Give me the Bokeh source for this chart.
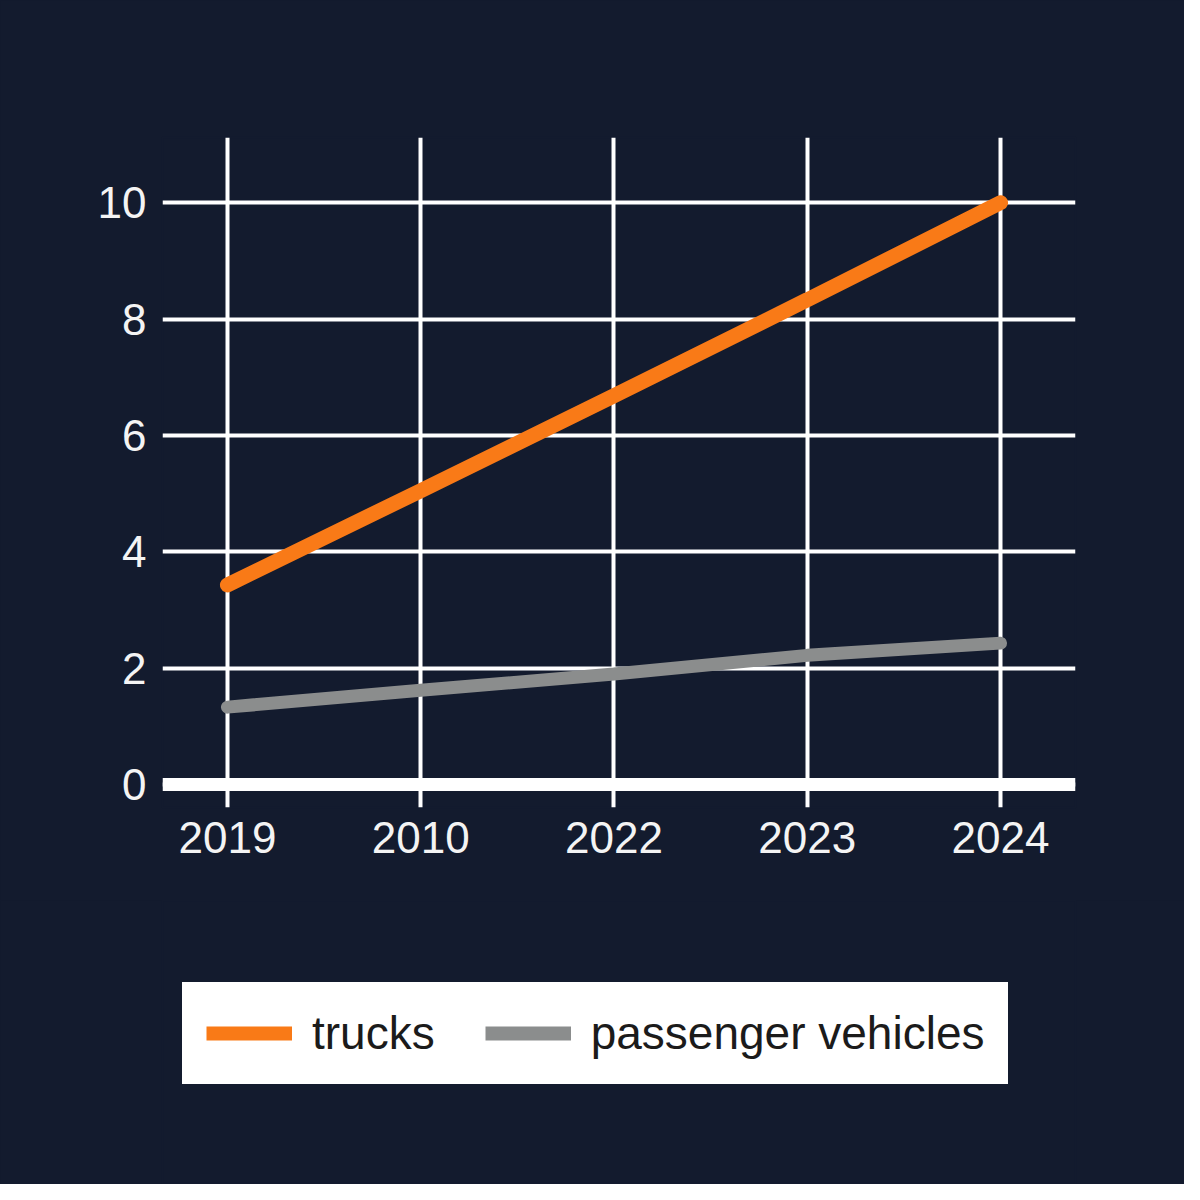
from bokeh.plotting import figure
from bokeh.layouts import column
from bokeh.models import Range1d, FixedTicker, Span, Legend, LegendItem
from bokeh.embed import file_html
from bokeh.resources import INLINE

# Dados
years = ["2019", "2010", "2022", "2023", "2024"]
trucks = [3.43, 5.05, 6.68, 8.33, 10.0]
passenger = [1.33, 1.62, 1.90, 2.22, 2.43]
y_ticks = [0, 2, 4, 6, 8, 10]

BG = "#131b2e"
ORANGE = "#f97a17"
GRAY = "#8b8d8d"
FONT = "Liberation Sans"

x = list(range(len(years)))

p = figure(width=1184, height=900, output_backend="svg", toolbar_location=None,
           x_range=Range1d(-0.336, 4.388), y_range=Range1d(-0.395, 11.12),
           min_border_left=162, min_border_right=109,
           min_border_top=137, min_border_bottom=93)

p.background_fill_color = BG
p.border_fill_color = BG
p.outline_line_color = BG
p.outline_line_width = 2

# Grade branca
p.xgrid.ticker = FixedTicker(ticks=x)
p.ygrid.ticker = FixedTicker(ticks=y_ticks)
for g in (p.xgrid, p.ygrid):
    g.grid_line_color = "white"
    g.grid_line_width = 4
    g.grid_line_alpha = 1

# Eixos
p.xaxis.ticker = FixedTicker(ticks=x)
p.xaxis.major_label_overrides = {i: s for i, s in enumerate(years)}
p.yaxis.ticker = FixedTicker(ticks=y_ticks)
for ax in (p.xaxis, p.yaxis):
    ax.axis_line_color = None
    ax.major_tick_line_color = None
    ax.minor_tick_line_color = None
    ax.major_tick_out = 0
    ax.major_tick_in = 0
    ax.major_label_text_color = "#f4f4f4"
    ax.major_label_text_font = FONT
    ax.major_label_text_font_size = "44px"
p.xaxis.major_label_standoff = 14
p.yaxis.major_label_standoff = 16

# Linha de base grossa em zero
p.add_layout(Span(location=0, dimension="width", line_color="white", line_width=13))

# Linhas das series
p.line(x, trucks, line_color=ORANGE, line_width=15, line_cap="round")
p.line(x, passenger, line_color=GRAY, line_width=13, line_cap="round")

# Figura separada so para a legenda
lf = figure(width=1184, height=284, output_backend="svg", toolbar_location=None,
            x_axis_location=None, y_axis_location=None,
            min_border=0, x_range=Range1d(0, 1), y_range=Range1d(0, 1))
lf.background_fill_color = BG
lf.border_fill_color = BG
lf.outline_line_color = BG
lf.outline_line_width = 2
lf.grid.visible = False

leg_t = lf.line(x, trucks, line_color=ORANGE, line_width=14, line_cap="butt", visible=False)
leg_p = lf.line(x, passenger, line_color=GRAY, line_width=14, line_cap="butt", visible=False)

# a borda branca faz o papel do padding da caixa
legend = Legend(items=[LegendItem(label="trucks", renderers=[leg_t]),
                       LegendItem(label="passenger vehicles", renderers=[leg_p])],
                orientation="horizontal", location=(20, 100), margin=0,
                padding=0, spacing=50, glyph_width=86, glyph_height=20,
                label_standoff=20, label_text_font=FONT,
                label_text_font_size="46px", label_text_color="#1b1b1b",
                background_fill_color="white", background_fill_alpha=1,
                border_line_color="white", border_line_width=24,
                border_line_join="miter")
lf.add_layout(legend, "center")

layout = column(p, lf, spacing=0, styles={"background-color": BG})

open("out.html", "w").write(file_html(layout, INLINE))
